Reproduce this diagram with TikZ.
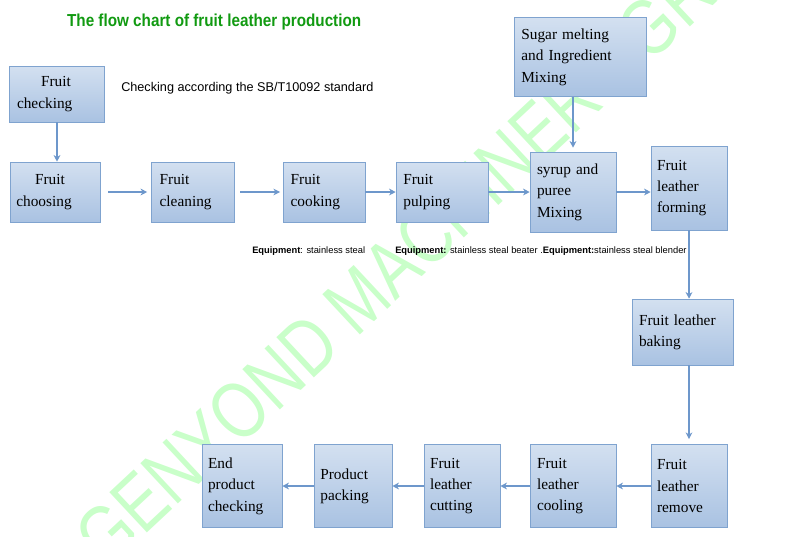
\documentclass[tikz,border=0pt]{standalone}
\usepackage{fontspec}
\setmainfont{Liberation Serif}
\newfontfamily\armfont{Liberation Sans}
\usetikzlibrary{arrows.meta}
\definecolor{boxtop}{HTML}{D3E0F0}
\definecolor{boxbot}{HTML}{A9C2E2}
\definecolor{boxline}{HTML}{7FA3CF}
\definecolor{arrowc}{HTML}{6D97CB}
\definecolor{titlec}{HTML}{119A11}
\tikzset{
  block/.style={rectangle, draw=boxline, top color=boxtop, bottom color=boxbot,
    align=left, anchor=center, font=\fontsize{11.5}{16}\selectfont, inner sep=0pt},
  line/.style={draw=arrowc, line width=0.9pt, -{Stealth[length=5pt,width=5pt]}},
  note/.style={font=\armfont\fontsize{7}{8}\selectfont, anchor=west, inner sep=0pt}
}
\begin{document}
\begin{tikzpicture}[x=0.75pt, y=-0.75pt]
    \useasboundingbox (0,0) rectangle (800,536);

    % Watermark
    \node[rotate=43, text=green!30, opacity=0.7, font=\armfont\fontsize{60}{60}\selectfont, xscale=0.8]
      (wm) at (395,265) {GENYOND MACHINERY GR};

    % Title and notes
    \node[anchor=west, text=titlec, font=\armfont\bfseries\fontsize{13}{14}\selectfont, xscale=0.88] (title) at (63,22) {The flow chart of fruit leather production};
    \node[note, font=\armfont\fontsize{9.5}{10}\selectfont] (std) at (121,88) {Checking according the SB/T10092 standard};
    \node[note] (eq1) at (252,251) {\textbf{Equipment}: stainless steal};
    \node[note] (eq2) at (395,251) {\textbf{Equipment:} stainless steal beater .\textbf{Equipment:}stainless steal blender};

    % Place nodes
    \node[block, minimum width=71.25pt, minimum height=42pt, text width=60pt] (check) at (57,94) {\hspace*{18pt}Fruit\\checking};
    \node[block, minimum width=67.5pt, minimum height=45pt, text width=58pt] (choose) at (55,192) {\hspace*{14pt}Fruit\\choosing};
    \node[block, minimum width=62.25pt, minimum height=45pt, text width=50pt] (clean) at (193,192) {Fruit\\cleaning};
    \node[block, minimum width=61.5pt, minimum height=45pt, text width=50pt] (cook) at (324,192) {Fruit\\cooking};
    \node[block, minimum width=69pt, minimum height=45pt, text width=58pt] (pulp) at (442,192) {Fruit\\pulping};
    \node[block, minimum width=99pt, minimum height=59pt, text width=88pt] (sugar) at (580,57) {Sugar melting\\and Ingredient\\Mixing};
    \node[block, minimum width=64.5pt, minimum height=60pt, text width=54pt] (mix) at (573,192) {syrup and\\puree\\Mixing};
    \node[block, minimum width=57pt, minimum height=63pt, text width=48pt] (form) at (689,188) {Fruit\\leather\\forming};
    \node[block, minimum width=75.75pt, minimum height=49.5pt, text width=66pt] (bake) at (683,332) {Fruit leather\\baking};
    \node[block, minimum width=57pt, minimum height=62pt, text width=48pt] (remove) at (689,486) {Fruit\\leather\\remove};
    \node[block, minimum width=64.5pt, minimum height=62pt, text width=54pt] (cool) at (573,486) {Fruit\\leather\\cooling};
    \node[block, minimum width=57pt, minimum height=62pt, text width=48pt] (cut) at (462,486) {Fruit\\leather\\cutting};
    \node[block, minimum width=58.5pt, minimum height=62pt, text width=49pt] (pack) at (353,486) {Product\\packing};
    \node[block, minimum width=60pt, minimum height=62pt, text width=51pt] (endc) at (242,486) {End\\product\\checking};

    % Draw edges
    \path[line] (check) -- (check|-choose.north);
    \path[line] ([xshift=6pt]choose.east) -- ([xshift=-3pt]clean.west);
    \path[line] ([xshift=4pt]clean.east) -- ([xshift=-2pt]cook.west);
    \path[line] (cook) -- (pulp);
    \path[line] (pulp) -- (mix);
    \path[line] (sugar.south-|mix) -- ([yshift=3pt]mix.north);
    \path[line] (mix) -- (form.west|-mix);
    \path[line] (form.south) -- (form.south|-bake.north);
    \path[line] (bake.south-|form) -- ([yshift=4pt]form|-remove.north);
    \path[line] (remove) -- (cool);
    \path[line] (cool) -- (cut);
    \path[line] (cut) -- (pack);
    \path[line] (pack) -- (endc);
\end{tikzpicture}
\end{document}
